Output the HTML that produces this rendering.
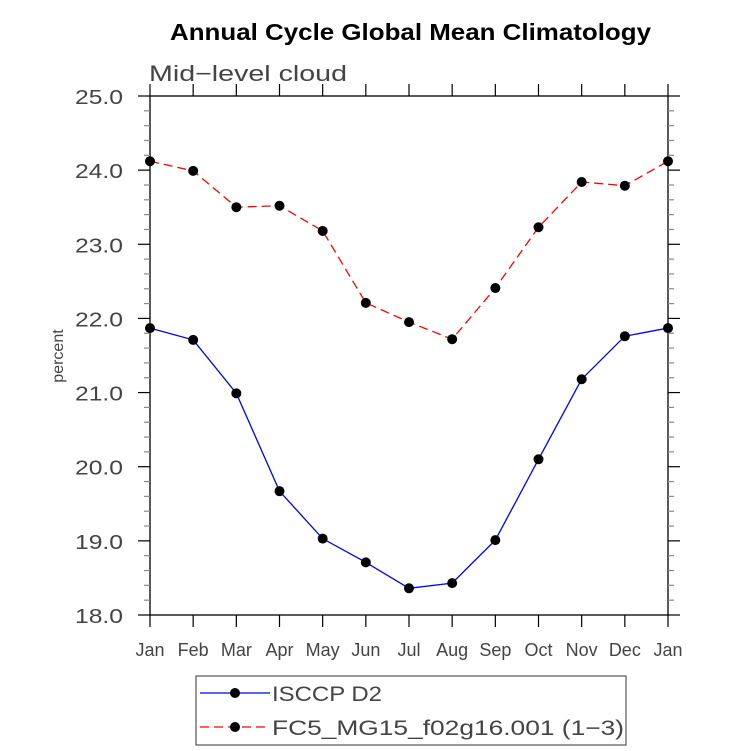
<!DOCTYPE html>
<html><head><meta charset="utf-8"><style>
body{margin:0;background:#fff;}
svg{display:block;font-family:"Liberation Sans",sans-serif;}
</style></head><body>
<svg id="chart" width="733" height="751">
<text x="170" y="40" textLength="481" lengthAdjust="spacingAndGlyphs" font-size="23" font-weight="bold">Annual Cycle Global Mean Climatology</text>
<text x="149" y="81" textLength="198" lengthAdjust="spacingAndGlyphs" font-size="22" fill="#444">Mid−level cloud</text>
<text transform="translate(63,356) rotate(-90)" text-anchor="middle" font-size="16" fill="#444">percent</text>
<g id="axes"></g>
<g id="series"></g>
<rect x="196" y="676" width="430" height="69" fill="none" stroke="#333" stroke-width="1"/>
<g>
<line x1="200" y1="693" x2="270" y2="693" stroke="#0000ff" stroke-width="1.3"/>
<circle cx="235" cy="693" r="5" fill="#000"/>
<text x="272" y="701" textLength="110" lengthAdjust="spacingAndGlyphs" font-size="21" fill="#444">ISCCP D2</text></g>
<g>
<line x1="200" y1="727" x2="270" y2="727" stroke="#ff0000" stroke-width="1.3" stroke-dasharray="9,5"/>
<circle cx="235" cy="727" r="5" fill="#000"/>
<text x="272" y="735" textLength="352" lengthAdjust="spacingAndGlyphs" font-size="21" fill="#444">FC5_MG15_f02g16.001 (1−3)</text></g>
</svg>
<script>
const months=["Jan","Feb","Mar","Apr","May","Jun","Jul","Aug","Sep","Oct","Nov","Dec","Jan"];
const isccp=[21.87,21.71,20.99,19.67,19.03,18.71,18.36,18.43,19.01,20.10,21.18,21.76,21.87];
const fc5=[24.12,23.99,23.50,23.52,23.18,22.21,21.95,21.72,22.41,23.23,23.84,23.79,24.12];
const yTicks=["18.0","19.0","20.0","21.0","22.0","23.0","24.0","25.0"];
const yMin=18,yMax=25;
const L=150,R=668,T=96,B=615;
const NS="http://www.w3.org/2000/svg";
const xs=i=>L+(R-L)*i/(months.length-1);
const ys=v=>B-(B-T)*(v-yMin)/(yMax-yMin);
function mk(tag,attrs,parent){const e=document.createElementNS(NS,tag);for(const k in attrs)e.setAttribute(k,attrs[k]);parent.appendChild(e);return e;}
const ax=document.getElementById('axes');
const fr=mk('rect',{x:L,y:T,width:R-L,height:B-T,fill:'none',stroke:'#000','stroke-width':1.3},ax);


months.forEach((m,i)=>{
  const x=xs(i);
  mk('line',{x1:x,y1:B,x2:x,y2:B+12,stroke:'#000','stroke-width':1.2},ax);
  mk('line',{x1:x,y1:T,x2:x,y2:T-12,stroke:'#000','stroke-width':1.2},ax);
  const t=mk('text',{x:x,y:B+41,'text-anchor':'middle','font-size':18,fill:'#444'},ax);
  t.textContent=m;
  
  
});
for(let v=yMin;v<=yMax+1e-9;v+=0.2){
  const y=ys(v);const major=Math.abs(v-Math.round(v))<1e-6;
  const len=major?12:6;const col=major?'#000':'#888';
  mk('line',{x1:L,y1:y,x2:L-len,y2:y,stroke:col,'stroke-width':1.2},ax);
  mk('line',{x1:R,y1:y,x2:R+len,y2:y,stroke:col,'stroke-width':1.2},ax);
}
yTicks.forEach(s=>{
  const t=mk('text',{x:75,y:ys(parseFloat(s))+8,textLength:48,lengthAdjust:'spacingAndGlyphs','font-size':20,fill:'#444'},ax);
  t.textContent=s;
  
  
});
const sg=document.getElementById('series');
function draw(vals,color,dash,name){
  const g=mk('g',{},sg);
  
  
  const pl=mk('polyline',{points:vals.map((v,i)=>xs(i)+','+ys(v)).join(' '),fill:'none',stroke:color,'stroke-width':1.3},g);
  if(dash)pl.setAttribute('stroke-dasharray',dash);
  vals.forEach((v,i)=>{const c=mk('circle',{cx:xs(i),cy:ys(v),r:5,fill:'#000'},g);
    
    });
}
draw(fc5,'#ff0000','9,5','series-fc5');
draw(isccp,'#0000ff',null,'series-isccp');
</script>
</body></html>
